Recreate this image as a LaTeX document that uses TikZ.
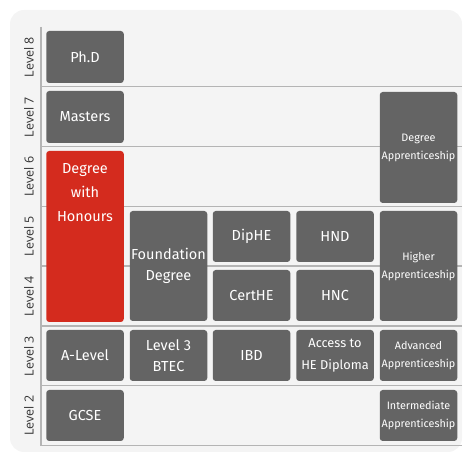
\documentclass[tikz,border=0pt]{standalone}
\usepackage{fontspec}
\setmainfont{Fira Sans}
\newfontfamily\lblfont{Open Sans}
\definecolor{bgcol}{HTML}{F4F4F4}
\definecolor{cellgray}{HTML}{646464}
\definecolor{cellred}{HTML}{D42B1E}
\definecolor{gridcol}{HTML}{B4B4B4}
\definecolor{lblcol}{HTML}{333333}
\begin{document}
\begin{tikzpicture}[x=1pt,y=-1pt,
  cell/.style={fill=cellgray, rounded corners=3pt, text=white, align=center,
    inner sep=0pt, minimum width=77.5, font=\fontsize{14.5}{21}\selectfont},
  redcell/.style={cell, fill=cellred},
  appr/.style={font=\fontsize{10.8}{18}\selectfont},
  gridline/.style={draw=gridcol, line width=1.4pt},
  lvl/.style={rotate=90, text=lblcol, font=\lblfont\fontsize{12.5}{14}\selectfont, inner sep=0pt}]
\useasboundingbox (0,0) rectangle (464,454);
\fill[bgcol, rounded corners=14pt] (10,10) rectangle (462,452);
% grid
\draw[gridline] (41,27) -- (41,445.6);
\foreach \yy in {86.8,146.6,206.4,266.2,326,385.8,445.6}
  \draw[gridline] (41,\yy) -- (462,\yy);
% level labels
\node[lvl] (l8) at (29,57) {Level 8};
\node[lvl] (l7) at (29,117) {Level 7};
\node[lvl] (l6) at (29,176.5) {Level 6};
\node[lvl] (l5) at (29,236) {Level 5};
\node[lvl] (l4) at (29,296) {Level 4};
\node[lvl] (l3) at (29,356) {Level 3};
\node[lvl] (l2) at (29,415.5) {Level 2};
% cells
\node[cell, minimum height=52] (phd) at (85,57) {Ph.D};
\node[cell, minimum height=52] (masters) at (85,117) {Masters};
\node[redcell, minimum height=171] (dwh) at (85,236.5) {};
\node[text=white, align=center, inner sep=0pt, font=\fontsize{14.5}{24}\selectfont] (dwhtext) at (85,193) {Degree\\with\\Honours};
\node[cell, appr, minimum height=111] (degapp) at (418.5,147.5) {Degree\\Apprenticeship};
\node[cell, minimum height=110] (found) at (168.5,266) {Foundation\\Degree};
\node[cell, minimum height=51] (diphe) at (251.5,236.5) {DipHE};
\node[cell, minimum height=51] (hnd) at (335,236.5) {HND};
\node[cell, minimum height=51] (certhe) at (251.5,295.5) {CertHE};
\node[cell, minimum height=51] (hnc) at (335,295.5) {HNC};
\node[cell, appr, minimum height=110] (higherapp) at (418.5,266) {Higher\\Apprenticeship};
\node[cell, minimum height=51] (alevel) at (85,355.5) {A-Level};
\node[cell, minimum height=51] (btec) at (168.5,355.5) {Level 3\\BTEC};
\node[cell, minimum height=51] (ibd) at (251.5,355.5) {IBD};
\node[cell, minimum height=51, font=\fontsize{12.8}{22}\selectfont] (access) at (335,355.5) {Access to\\HE Diploma};
\node[cell, appr, minimum height=51] (advapp) at (418.5,355.5) {Advanced\\Apprenticeship};
\node[cell, minimum height=51] (gcse) at (85,415.5) {GCSE};
\node[cell, appr, minimum height=51] (intapp) at (418.5,415.5) {Intermediate\\Apprenticeship};
\end{tikzpicture}
\end{document}
